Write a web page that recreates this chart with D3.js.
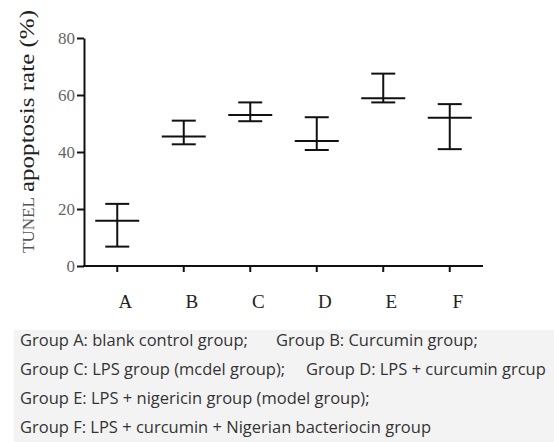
<!DOCTYPE html>
<html>
<head>
<meta charset="utf-8">
<script src="https://cdn.jsdelivr.net/npm/d3@7"></script>
<style>
  body { margin: 0; background: #fff; }
  svg { display: block; }
</style>
</head>
<body>
<svg id="chart" width="554" height="442"></svg>
<script>
// Groups and values (mean, lower, upper, in %)
var groups = ["A", "B", "C", "D", "E", "F"];
var means = [15.9, 45.4, 53.0, 43.9, 58.9, 52.0];
var lows = [6.8, 42.7, 50.8, 40.7, 57.4, 41.0];
var highs = [21.8, 51.0, 57.4, 52.2, 67.5, 56.8];
var yTicks = [0, 20, 40, 60, 80];

// Caption lines under the chart
var captionLines = [
  ["Group A: blank control group;", "Group B: Curcumin group;"],
  ["Group C: LPS group (mcdel group);", "Group D: LPS + curcumin grcup"],
  ["Group E: LPS + nigericin group (model group);"],
  ["Group F: LPS + curcumin + Nigerian bacteriocin group"]
];

var svg = d3.select("#chart");

// Scales
var x = d3.scaleBand()
    .domain(groups)
    .range([84, 483])
    .padding(0);

var y = d3.scaleLinear()
    .domain([0, 80])
    .range([266, 38]);

var cx = function(i) { return x(groups[i]) + x.bandwidth() / 2; };

// Caption background
svg.append("rect")
    .attr("x", 14)
    .attr("y", 330)
    .attr("width", 540)
    .attr("height", 112)
    .attr("fill", "#f3f3f3");

// Y axis
var yAxis = svg.append("g")
    .attr("transform", "translate(84,0)")
    .call(d3.axisLeft(y).tickValues(yTicks).tickSize(7).tickPadding(2).tickSizeOuter(0));

yAxis.select(".domain").attr("stroke", "#111").attr("stroke-width", 2);
yAxis.selectAll(".tick line").attr("stroke", "#111").attr("stroke-width", 2);
yAxis.selectAll(".tick text")
    .attr("fill", "#666")
    .style("font-family", "'Liberation Serif', 'DejaVu Serif', serif")
    .style("font-size", "17px");

// X axis
var xAxis = svg.append("g")
    .attr("transform", "translate(0,266)")
    .call(d3.axisBottom(x).tickSize(6).tickSizeOuter(0));

xAxis.select(".domain").attr("stroke", "#111").attr("stroke-width", 2).attr("d", "M83,0H483");
xAxis.selectAll(".tick line").attr("stroke", "#111").attr("stroke-width", 2);
xAxis.selectAll(".tick text")
    .attr("y", 42)
    .attr("dy", 0)
    .attr("dx", 8)
    .attr("fill", "#222")
    .style("font-family", "'Liberation Serif', 'DejaVu Serif', serif")
    .style("font-size", "19px");

// Y axis title: small grey "TUNEL" then the dark rest
svg.append("text")
    .attr("transform", "translate(34,253) rotate(-90)")
    .attr("fill", "#555")
    .attr("textLength", 56)
    .attr("lengthAdjust", "spacingAndGlyphs")
    .style("font-family", "'Liberation Serif', serif")
    .style("font-size", "17px")
    .text("TUNEL");

svg.append("text")
    .attr("transform", "translate(34,192) rotate(-90)")
    .attr("fill", "#222")
    .attr("textLength", 182)
    .attr("lengthAdjust", "spacingAndGlyphs")
    .style("font-family", "'Liberation Serif', serif")
    .style("font-size", "22px")
    .text("apoptosis rate (%)");

// Error bars: vertical line, caps and mean line
var bars = svg.append("g")
    .attr("stroke", "#111")
    .attr("stroke-width", 2)
    .attr("fill", "none");

groups.forEach(function(g, i) {
    var c = cx(i);
    bars.append("line")
        .attr("x1", c).attr("x2", c)
        .attr("y1", y(highs[i])).attr("y2", y(lows[i]));
    bars.append("line")
        .attr("x1", c - 12).attr("x2", c + 12)
        .attr("y1", y(highs[i])).attr("y2", y(highs[i]));
    bars.append("line")
        .attr("x1", c - 12).attr("x2", c + 12)
        .attr("y1", y(lows[i])).attr("y2", y(lows[i]));
    bars.append("line")
        .attr("x1", c - 22).attr("x2", c + 22)
        .attr("y1", y(means[i])).attr("y2", y(means[i]));
});

// Caption text
var segX = [[20, 276], [20, 306], [20], [20]];
captionLines.forEach(function(line, li) {
    line.forEach(function(seg, si) {
        svg.append("text")
            .attr("x", segX[li][si])
            .attr("y", 346 + li * 29)
            .attr("fill", "#333")
            .style("font-family", "'Open Sans', 'Noto Sans', sans-serif")
            .style("font-size", "16.5px")
            .text(seg);
    });
});
</script>
</body>
</html>
